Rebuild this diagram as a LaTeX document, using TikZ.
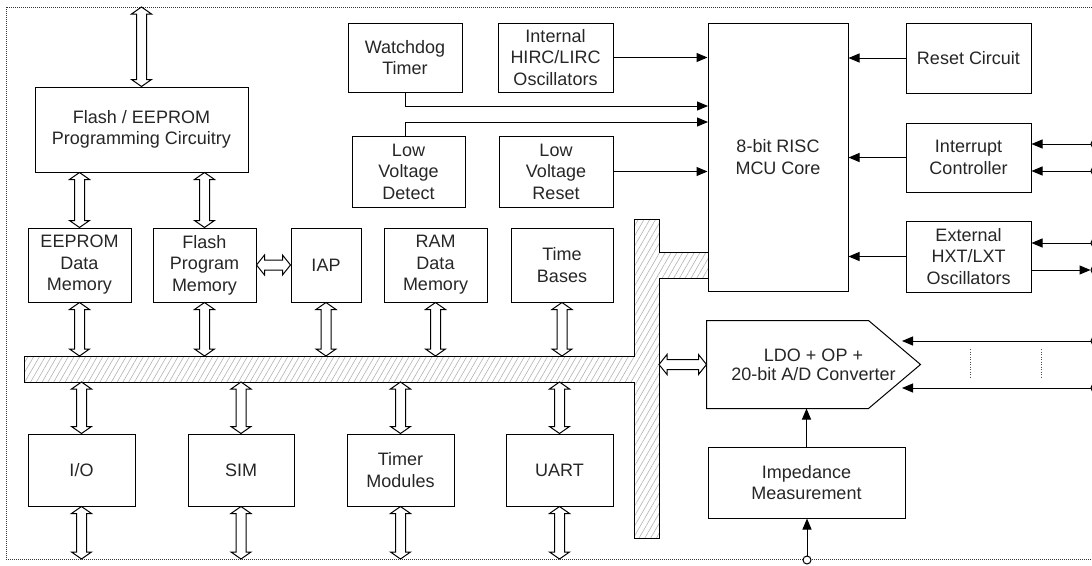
\documentclass[tikz,border=0pt]{standalone}
\usepackage{fontspec}
\setmainfont{Liberation Sans}
\usetikzlibrary{arrows.meta,patterns.meta,calc}

\tikzset{
  blk/.style={draw, line width=1pt, inner sep=0pt, align=center,
              font=\fontsize{18}{21.5}\selectfont, text=black!85},
  sig/.style={line width=1pt, -{Triangle[length=11pt,width=9pt]}},
  twoway/.style={draw, fill=white, line width=1pt, line join=miter},
  outerframe/.style={line width=0.9pt, dash pattern=on 1pt off 1pt, draw=black!80},
  busfill/.style={draw, line width=1pt,
                  pattern={Lines[angle=60,distance=5pt,line width=0.6pt]},
                  pattern color=black!30},
  pinring/.style={draw, line width=1pt, fill=white, circle, inner sep=0pt, minimum size=8pt},
  guide/.style={line width=0.8pt, dash pattern=on 1pt off 1.5pt, draw=black!70},
}

% hollow bidirectional bus arrow, vertical: #1 upper end, #2 lower end
\newcommand\vtwoway[2]{%
  \draw[twoway] let \p1=#1, \p2=#2 in
    (\x1,\y1) -- (\x1+10pt,\y1-7pt) -- (\x1+5pt,\y1-7pt) -- (\x1+5pt,\y2+7pt)
    -- (\x1+10pt,\y2+7pt) -- (\x1,\y2) -- (\x1-10pt,\y2+7pt) -- (\x1-5pt,\y2+7pt)
    -- (\x1-5pt,\y1-7pt) -- (\x1-10pt,\y1-7pt) -- cycle;}
% hollow bidirectional bus arrow, horizontal: #1 left end, #2 right end
\newcommand\htwoway[2]{%
  \draw[twoway] let \p1=#1, \p2=#2 in
    (\x1,\y1) -- (\x1+8pt,\y1+10pt) -- (\x1+8pt,\y1+5pt) -- (\x2-8pt,\y1+5pt)
    -- (\x2-8pt,\y1+10pt) -- (\x2,\y1) -- (\x2-8pt,\y1-10pt) -- (\x2-8pt,\y1-5pt)
    -- (\x1+8pt,\y1-5pt) -- (\x1+8pt,\y1-10pt) -- cycle;}

\begin{document}
\begin{tikzpicture}[x=1pt,y=-1pt]
\useasboundingbox (0,0) rectangle (1092,565);
\clip (0,0) rectangle (1092,565);

% outer frame
\draw[outerframe] (6,7) rectangle (1130,559);
\coordinate (frametop) at (0,7);
\coordinate (framebot) at (0,559);

% internal data bus
\draw[busfill] (24,356) -- (634,356) -- (634,219) -- (659,219) -- (659,252)
  -- (708,252) -- (708,278) -- (659,278) -- (659,538) -- (634,538)
  -- (634,382) -- (24,382) -- cycle;
\coordinate (bustop) at (0,356);
\coordinate (busbot) at (0,382);
\coordinate (busright) at (659,364.5);

% blocks
\node[blk, minimum width=213pt, minimum height=85pt] (prog) at (141.5,129.5) {Flash / EEPROM\\Programming Circuitry};
\node[blk, minimum width=103pt, minimum height=74pt] (eeprom) at (79.5,265) {EEPROM\\Data\\Memory};
\node[blk, minimum width=103pt, minimum height=74pt] (flash) at (204.5,265) {Flash\\Program\\Memory};
\node[blk, minimum width=70pt, minimum height=74pt] (iap) at (326,265) {IAP};
\node[blk, minimum width=103pt, minimum height=74pt] (ram) at (435.5,265) {RAM\\Data\\Memory};
\node[blk, minimum width=102pt, minimum height=74pt] (tb) at (562,265) {Time\\Bases};

\node[blk, minimum width=107pt, minimum height=72pt] (io) at (81.5,470) {I/O};
\node[blk, minimum width=106pt, minimum height=72pt] (sim) at (241,470) {SIM};
\node[blk, minimum width=107pt, minimum height=72pt] (tmr) at (400.5,470) {Timer\\Modules};
\node[blk, minimum width=107pt, minimum height=72pt] (uart) at (559.5,470) {UART};

\node[blk, minimum width=114pt, minimum height=69pt] (wdt) at (405,57.5) {Watchdog\\Timer};
\node[blk, minimum width=115pt, minimum height=69pt] (hirc) at (555.5,57.5) {Internal\\HIRC/LIRC\\Oscillators};
\node[blk, minimum width=113pt, minimum height=71pt] (lvd) at (408.5,171.5) {Low\\Voltage\\Detect};
\node[blk, minimum width=114pt, minimum height=71pt] (lvr) at (556,171.5) {Low\\Voltage\\Reset};

\node[blk, minimum width=140pt, minimum height=268pt] (mcu) at (778,157) {8-bit RISC\\MCU Core};

\node[blk, minimum width=125pt, minimum height=70pt] (reset) at (968.5,58) {Reset Circuit};
\node[blk, minimum width=125pt, minimum height=69pt] (intc) at (968.5,157.5) {Interrupt\\Controller};
\node[blk, minimum width=125pt, minimum height=71pt] (ext) at (968.5,256.5) {External\\HXT/LXT\\Oscillators};

% converter block: pointed on the input side
\node[blk, draw=none, minimum width=213pt, minimum height=87pt,
      font=\fontsize{18}{19}\selectfont] (ldo) at (813.5,364.5) {LDO + OP +\\20-bit A/D Converter};
\draw[line width=1pt, line join=miter] (ldo.north west) -- ($(ldo.north east)+(-52,0)$)
  -- (ldo.east) -- ($(ldo.south east)+(-52,0)$) -- (ldo.south west) -- cycle;

\node[blk, minimum width=197pt, minimum height=71pt] (imp) at (806.5,482.5) {Impedance\\Measurement};

% bus arrows
\vtwoway{(frametop -| prog.north)}{(prog.north)}
\vtwoway{(prog.south -| eeprom.north)}{(eeprom.north)}
\vtwoway{(prog.south -| flash.north)}{(flash.north)}
\foreach \b in {eeprom,flash,iap,ram,tb}{
  \vtwoway{(\b.south)}{(bustop -| \b.south)}
}
\foreach \b in {io,sim,tmr,uart}{
  \vtwoway{(busbot -| \b.north)}{(\b.north)}
  \vtwoway{(\b.south)}{(framebot -| \b.south)}
}
\htwoway{(flash.east)}{(iap.west)}
\htwoway{(busright)}{(ldo.west)}

% control signals into the core
\draw[sig] (reset.west) -- (reset.west -| mcu.east);
\draw[sig] (intc.west) -- (intc.west -| mcu.east);
\draw[sig] (ext.west) -- (ext.west -| mcu.east);
\draw[sig] (hirc.east) -- (hirc.east -| mcu.west);
\draw[sig] (lvr.east) -- (lvr.east -| mcu.west);
\coordinate (wdtin) at (708,106);
\coordinate (lvdin) at (708,122);
\draw[sig] (wdt.south) |- (wdtin);
\draw[sig] (lvd.north -| wdt.south) |- (lvdin);

% external pins
\node[pinring] (p1) at (1095,144) {};
\node[pinring] (p2) at (1095,171) {};
\node[pinring] (p3) at (1095,243) {};
\node[pinring] (p4) at (1095,270) {};
\node[pinring] (p5) at (1095,341) {};
\node[pinring] (p6) at (1095,388) {};
\node[pinring] (pz) at (807,560) {};

\draw[sig] (p1) -- (p1 -| intc.east);
\draw[sig] (p2) -- (p2 -| intc.east);
\draw[sig] (p3) -- (p3 -| ext.east);
\draw[sig] (p4 -| ext.east) -- (p4);
\coordinate (adin1) at (902,341);
\coordinate (adin2) at (902,388);
\draw[sig] (p5) -- (adin1);
\draw[sig] (p6) -- (adin2);
\draw[guide] (970,349) -- (970,378);
\draw[guide] (1041,349) -- (1041,378);

\draw[sig] (pz) -- (pz |- imp.south);
\draw[sig] (imp.north) -- (imp.north |- ldo.south);
\end{tikzpicture}
\end{document}
